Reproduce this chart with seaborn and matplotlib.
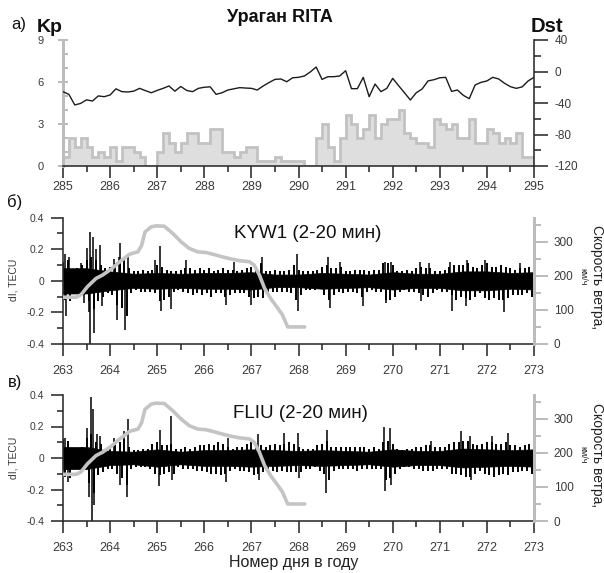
import numpy as np
import matplotlib
matplotlib.use("Agg")
import matplotlib.pyplot as plt
from matplotlib.ticker import MultipleLocator, FixedLocator
import seaborn as sns

# ---------------- geomagnetic indices (days 285-295) ----------------
kp_start_day = 285.0
kp_step = 0.125          # 3-hour intervals
kp_values = [
    0.67, 2, 1.33, 2, 1.33, 0.67, 1, 0.67,          # 285
    1.33, 0.33, 1.33, 1.33, 1, 0.67, 0, 0,          # 286
    1, 2.33, 1.67, 1, 1.67, 2.33, 2.33, 1.67,       # 287
    1.67, 2.67, 2.67, 1, 1, 0.67, 1, 1.33,          # 288
    1.33, 0.33, 0.33, 0.33, 0.67, 0.33, 0.33, 0.33, # 289
    0.33, 0, 0, 2, 3, 1.33, 0.33, 2,                # 290
    3.67, 3, 2, 2.67, 3.67, 2, 3, 3.33,             # 291
    3.33, 4, 2.33, 2, 1.67, 1.67, 1.33, 3.33,       # 292
    3, 2.67, 3, 2, 2, 3.33, 1.67, 1.67,             # 293
    2.67, 2.33, 1.67, 2, 1.67, 2.33, 0.67, 0.67,    # 294
]
dst_values = [
    -25.6, -29, -42.5, -40.5, -36, -37.5, -31, -32,
    -29.8, -22, -25.6, -26, -25, -21.4, -24.3, -27,
    -24, -21.4, -18.4, -25, -19, -24, -25.6, -21.4,
    -20, -19.5, -29, -27, -23.5, -22, -20.5, -21,
    -21.4, -23.5, -18.4, -14, -10, -9.5, -13, -8,
    -7.4, -5.7, -0.6, 5.7, -10, -6.6, -6.6, -5.7,
    1, -21.8, -21.8, -7.4, -32, -15.9, -25.6, -21.4,
    -8.7, -18, -27, -36.2, -27, -22.2, -12, -10.4,
    -8, -7.4, -25.2, -23.5, -30.3, -34.5, -17.1, -13.8,
    -12, -7.4, -9.5, -15, -19.3, -21.4, -19.5, -12,
    -7.4,
]

# ---------------- hurricane RITA wind speed, km/h ----------------
wind_days = [263.00, 263.28, 263.38, 263.52, 263.70, 263.84, 264.02, 264.16,
             264.30, 264.41, 264.59, 264.67, 264.74, 264.87, 264.97, 265.15,
             265.33, 265.51, 265.68, 265.86, 266.04, 266.21, 266.39, 266.57,
             266.75, 266.96, 267.06, 267.17, 267.28, 267.42, 267.56, 267.66,
             267.77, 268.13]
wind_kmh = [137, 137, 144, 168, 192, 202, 219, 236,
            251, 263, 270, 289, 328, 343, 346, 345,
            324, 299, 280, 270, 268, 262, 255, 249,
            244, 241, 231, 202, 163, 131, 105, 85,
            50, 50]

# ---------------- TEC variations dI (2-20 min band) ----------------
# upper / lower extremes of dI in successive 0.1-day windows
tec_start_day = 263.0
tec_step = 0.1
kyw1_upper = [
    0.12, 0.13, 0.07, 0.08, 0.10, 0.13, 0.15, 0.13, 0.10, 0.08,
    0.09, 0.11, 0.13, 0.15, 0.08, 0.06, 0.06, 0.07, 0.06, 0.07,
    0.10, 0.09, 0.07, 0.06, 0.06, 0.07, 0.08, 0.08, 0.07, 0.08,
    0.07, 0.08, 0.06, 0.07, 0.08, 0.07, 0.07, 0.06, 0.07, 0.08,
    0.09, 0.09, 0.11, 0.06, 0.06, 0.07, 0.06, 0.06, 0.07, 0.10,
    0.07, 0.06, 0.06, 0.06, 0.07, 0.09, 0.10, 0.08, 0.08, 0.09,
    0.06, 0.06, 0.07, 0.07, 0.07, 0.06, 0.07, 0.07, 0.11, 0.11,
    0.10, 0.06, 0.06, 0.07, 0.06, 0.08, 0.09, 0.08, 0.08, 0.06,
    0.06, 0.07, 0.09, 0.10, 0.10, 0.10, 0.11, 0.09, 0.08, 0.10,
    0.11, 0.09, 0.09, 0.10, 0.09, 0.08, 0.07, 0.08, 0.08, 0.09,
    0.08,
]
kyw1_lower = [
    -0.12, -0.13, -0.07, -0.07, -0.09, -0.13, -0.18, -0.13, -0.10, -0.08,
    -0.09, -0.15, -0.17, -0.22, -0.08, -0.06, -0.07, -0.07, -0.07, -0.08,
    -0.13, -0.12, -0.10, -0.07, -0.06, -0.07, -0.08, -0.09, -0.08, -0.09,
    -0.08, -0.10, -0.08, -0.08, -0.10, -0.09, -0.08, -0.08, -0.08, -0.10,
    -0.11, -0.10, -0.11, -0.07, -0.07, -0.07, -0.07, -0.07, -0.08, -0.12,
    -0.09, -0.06, -0.06, -0.06, -0.05, -0.09, -0.12, -0.09, -0.07, -0.08,
    -0.07, -0.07, -0.08, -0.10, -0.07, -0.06, -0.07, -0.07, -0.12, -0.12,
    -0.10, -0.07, -0.06, -0.07, -0.07, -0.08, -0.09, -0.10, -0.08, -0.06,
    -0.07, -0.07, -0.09, -0.12, -0.10, -0.11, -0.12, -0.10, -0.08, -0.11,
    -0.12, -0.11, -0.12, -0.12, -0.11, -0.09, -0.09, -0.09, -0.08, -0.10,
    -0.09,
]
# half-width of the dense core of the band, every half day
core_start_day = 263.0
core_step = 0.5
kyw1_core = [0.08, 0.08, 0.06, 0.045, 0.05, 0.045, 0.05, 0.05, 0.055, 0.04,
             0.04, 0.05, 0.045, 0.04, 0.055, 0.045, 0.045, 0.06, 0.06, 0.05,
             0.055]
kyw1_spike_days = [263.04, 263.07, 263.13, 263.39, 263.45, 263.52, 263.55, 263.58,
                   263.57, 263.63, 263.66, 263.71, 263.79, 263.83, 264.08, 264.15,
                   264.18, 264.22, 264.31, 264.37, 264.95, 265.05, 265.08, 265.29,
                   265.62, 266.46, 266.62, 267.00, 267.22, 267.96, 267.99, 268.63,
                   268.66, 268.88, 269.37, 269.83, 269.86, 269.97, 270.57, 270.60,
                   270.78, 271.21, 271.25, 271.56, 271.58, 271.95, 272.36, 272.70]
kyw1_spike_values = [0.17, -0.22, 0.15, 0.11, -0.14, 0.21, -0.20, 0.31,
                     -0.46, 0.28, -0.33, 0.20, 0.23, -0.16, 0.14, -0.25,
                     0.15, 0.24, -0.31, 0.15, 0.13, 0.22, -0.19, -0.18,
                     0.13, -0.15, 0.12, -0.15, 0.15, 0.17, -0.19, 0.15,
                     -0.17, 0.12, -0.16, 0.12, -0.14, 0.12, 0.12, -0.13,
                     0.11, 0.12, -0.19, -0.16, 0.13, 0.13, -0.20, 0.11]

fliu_upper = [
    0.12, 0.11, 0.06, 0.06, 0.07, 0.13, 0.15, 0.10, 0.09, 0.06,
    0.06, 0.10, 0.10, 0.12, 0.07, 0.05, 0.05, 0.06, 0.06, 0.09,
    0.10, 0.08, 0.08, 0.09, 0.06, 0.06, 0.07, 0.06, 0.07, 0.08,
    0.08, 0.09, 0.08, 0.10, 0.09, 0.07, 0.06, 0.07, 0.07, 0.09,
    0.10, 0.09, 0.08, 0.07, 0.08, 0.09, 0.08, 0.09, 0.10, 0.09,
    0.07, 0.06, 0.06, 0.06, 0.08, 0.09, 0.11, 0.07, 0.07, 0.07,
    0.07, 0.07, 0.07, 0.07, 0.07, 0.06, 0.07, 0.06, 0.10, 0.11,
    0.09, 0.06, 0.05, 0.06, 0.06, 0.07, 0.07, 0.08, 0.08, 0.07,
    0.07, 0.07, 0.09, 0.10, 0.10, 0.11, 0.11, 0.09, 0.08, 0.09,
    0.10, 0.10, 0.09, 0.09, 0.10, 0.08, 0.08, 0.07, 0.08, 0.09,
    0.09,
]
fliu_lower = [
    -0.12, -0.13, -0.06, -0.06, -0.07, -0.16, -0.22, -0.11, -0.09, -0.07,
    -0.07, -0.10, -0.13, -0.17, -0.07, -0.06, -0.06, -0.06, -0.07, -0.10,
    -0.11, -0.10, -0.09, -0.10, -0.06, -0.07, -0.07, -0.07, -0.08, -0.08,
    -0.09, -0.10, -0.10, -0.11, -0.10, -0.08, -0.07, -0.08, -0.08, -0.09,
    -0.11, -0.10, -0.09, -0.08, -0.08, -0.09, -0.08, -0.09, -0.09, -0.09,
    -0.09, -0.07, -0.07, -0.06, -0.08, -0.10, -0.14, -0.08, -0.07, -0.07,
    -0.07, -0.07, -0.08, -0.07, -0.07, -0.07, -0.07, -0.07, -0.14, -0.13,
    -0.10, -0.07, -0.06, -0.06, -0.07, -0.07, -0.08, -0.08, -0.08, -0.07,
    -0.07, -0.07, -0.10, -0.10, -0.11, -0.12, -0.12, -0.10, -0.08, -0.10,
    -0.11, -0.12, -0.11, -0.10, -0.11, -0.09, -0.09, -0.08, -0.08, -0.10,
    -0.09,
]
fliu_core = [0.07, 0.07, 0.045, 0.04, 0.055, 0.04, 0.05, 0.05, 0.055, 0.05,
             0.045, 0.05, 0.045, 0.04, 0.055, 0.045, 0.045, 0.06, 0.055, 0.05,
             0.055]
fliu_spike_days = [263.04, 263.10, 263.50, 263.56, 263.60, 263.61, 263.63, 263.66,
                   263.72, 263.79, 264.08, 264.20, 264.30, 264.37, 264.35, 265.05,
                   265.03, 265.29, 265.32, 266.46, 266.50, 267.13, 267.16, 267.70,
                   267.98, 268.02, 268.59, 268.61, 269.82, 269.83, 269.94, 269.96,
                   270.82, 271.46, 271.64, 271.66, 272.10, 272.44]
fliu_spike_values = [0.13, -0.15, 0.19, -0.25, 0.39, -0.53, 0.31, -0.30,
                     0.15, 0.14, 0.13, -0.17, 0.17, 0.25, -0.25, 0.18,
                     -0.18, 0.265, -0.14, -0.15, 0.13, 0.15, -0.14, 0.16,
                     0.16, -0.13, -0.22, 0.18, 0.20, -0.21, 0.19, -0.17,
                     0.11, 0.17, 0.14, -0.14, 0.14, 0.16]

tec_days = np.round(tec_start_day + tec_step * np.arange(len(kyw1_upper)), 2)
core_days = core_start_day + core_step * np.arange(len(kyw1_core))
kp_edges = kp_start_day + kp_step * np.arange(len(kp_values) + 1)
dst_days = kp_start_day + kp_step * np.arange(len(dst_values))

# ---------------- style ----------------
sns.set_style("ticks")
plt.rcParams["font.family"] = ["Liberation Sans", "DejaVu Sans"]
plt.rcParams["axes.unicode_minus"] = False

W, H = 604, 573
fig = plt.figure(figsize=(W / 100, H / 100), dpi=100)


def box(x0, y0, x1, y1):
    return [x0 / W, 1 - y1 / H, (x1 - x0) / W, (y1 - y0) / H]


def put(x, y, s, **kw):
    fig.text(x / W, 1 - y / H, s, ha="center", va="center", **kw)


DARK = "#2b2b2b"
LABEL = "#3a3a3a"
GRAY_AXIS = "#bcbcbc"
PT = 72 / 100  # points per pixel


def style_days_axis(ax, lo, hi, pad):
    ax.set_xlim(lo, hi)
    ax.xaxis.set_major_locator(MultipleLocator(1))
    ax.xaxis.set_minor_locator(MultipleLocator(0.5))
    ax.tick_params(axis="x", which="major", direction="out", length=12 * PT,
                   width=1.6 * PT, color=DARK, labelsize=9, labelcolor=LABEL,
                   pad=pad)
    ax.tick_params(axis="x", which="minor", direction="out", length=6 * PT,
                   width=1.6 * PT, color=DARK)
    ax.spines["bottom"].set_color(DARK)
    ax.spines["bottom"].set_linewidth(1.6 * PT)


# ---------------- panel a: Kp and Dst ----------------
ax_kp = fig.add_axes(box(63, 40, 534, 166))
ax_kp.stairs(kp_values, kp_edges, fill=True, facecolor="#dedede", edgecolor="none")
ax_kp.stairs(kp_values, kp_edges, color="#c2c2c2", linewidth=2.0, baseline=0)
ax_kp.set_ylim(0, 9)
ax_kp.set_yticks([0, 3, 6, 9])
ax_kp.yaxis.set_minor_locator(FixedLocator([1, 2, 4, 5, 7, 8]))
ax_kp.tick_params(axis="y", which="major", direction="inout", length=10 * PT,
                  width=2 * PT, color=GRAY_AXIS, labelsize=8, labelcolor=LABEL,
                  pad=10)
ax_kp.tick_params(axis="y", which="minor", direction="in", length=5 * PT,
                  width=2 * PT, color=GRAY_AXIS)
ax_kp.spines["left"].set_color(GRAY_AXIS)
ax_kp.spines["left"].set_linewidth(3 * PT)
for side in ("top", "right"):
    ax_kp.spines[side].set_visible(False)
style_days_axis(ax_kp, 285, 295, pad=2.5)

ax_dst = ax_kp.twinx()
sns.lineplot(x=dst_days, y=dst_values, ax=ax_dst, color="#1c1c1c",
             linewidth=1.0, sort=False)
ax_dst.set_ylim(-120, 40)
ax_dst.set_yticks([40, 0, -40, -80, -120])
ax_dst.yaxis.set_minor_locator(FixedLocator([20, -20, -60, -100]))
ax_dst.tick_params(axis="y", which="major", direction="out", length=14 * PT,
                   width=1.6 * PT, color=DARK, labelsize=8.5, labelcolor=LABEL,
                   pad=5)
ax_dst.tick_params(axis="y", which="minor", direction="out", length=7 * PT,
                   width=1.6 * PT, color=DARK)
ax_dst.spines["right"].set_color(DARK)
ax_dst.spines["right"].set_linewidth(1.6 * PT)
for side in ("top", "left", "bottom"):
    ax_dst.spines[side].set_visible(False)
ax_dst.set_xlabel("")
ax_dst.set_ylabel("")
ax_kp.set_xlabel("")
ax_kp.set_ylabel("")


# ---------------- panels б and в: TEC and wind speed ----------------
def tec_panel(y_top, y_bottom, upper, lower, core, spike_days, spike_values):
    ax = fig.add_axes(box(63, y_top, 534, y_bottom))
    core = np.asarray(core)
    ax.fill_between(core_days, -core, core, color="black", linewidth=0.5)
    # hairs: the maximum of each 0.1-day window, then its minimum half a
    # window later
    ax.vlines(tec_days, 0, upper, color="black", linewidth=1.4)
    ax.vlines(tec_days + tec_step / 2, 0, lower, color="black", linewidth=1.4)
    ax.vlines(spike_days, 0, spike_values, color="black", linewidth=1.1)
    ax.set_ylim(-0.4, 0.4)
    ax.set_yticks([-0.4, -0.2, 0, 0.2, 0.4])
    ax.set_yticklabels(["-0.4", "-0.2", "0", "0.2", "0.4"])
    ax.yaxis.set_minor_locator(FixedLocator([-0.3, -0.1, 0.1, 0.3]))
    ax.tick_params(axis="y", which="major", direction="out", length=12 * PT,
                   width=1.6 * PT, color=DARK, labelsize=7.5, labelcolor=LABEL,
                   pad=5)
    ax.tick_params(axis="y", which="minor", direction="out", length=6 * PT,
                   width=1.6 * PT, color=DARK)
    ax.spines["left"].set_color(DARK)
    ax.spines["left"].set_linewidth(1.6 * PT)
    for side in ("top", "right"):
        ax.spines[side].set_visible(False)
    style_days_axis(ax, 263, 273, pad=6.5)

    axw = ax.twinx()
    sns.lineplot(x=wind_days, y=wind_kmh, ax=axw, color="#c4c4c4",
                 linewidth=2.6, sort=False)
    axw.set_ylim(0, 370)
    axw.set_yticks([0, 100, 200, 300])
    axw.yaxis.set_minor_locator(FixedLocator([50, 150, 250, 350]))
    axw.tick_params(axis="y", which="major", direction="out", length=14 * PT,
                    width=2 * PT, color=GRAY_AXIS, labelsize=8.5,
                    labelcolor=LABEL, pad=4)
    axw.tick_params(axis="y", which="minor", direction="out", length=7 * PT,
                    width=2 * PT, color=GRAY_AXIS)
    axw.spines["right"].set_color(GRAY_AXIS)
    axw.spines["right"].set_linewidth(3 * PT)
    for side in ("top", "left", "bottom"):
        axw.spines[side].set_visible(False)
    axw.set_xlabel("")
    axw.set_ylabel("")
    return ax, axw


tec_panel(217.7, 344, kyw1_upper, kyw1_lower, kyw1_core,
          kyw1_spike_days, kyw1_spike_values)
tec_panel(395, 521, fliu_upper, fliu_lower, fliu_core,
          fliu_spike_days, fliu_spike_values)

# ---------------- texts ----------------
put(280, 17, "Ураган RITA", fontsize=13, fontweight="bold", color="#111111")
put(19, 25, "а)", fontsize=12, color="#111111")
put(50, 27, "Kp", fontsize=14, fontweight="bold", color="#111111")
put(547, 27, "Dst", fontsize=14.5, fontweight="bold", color="#111111")

put(15, 202, "б)", fontsize=12, color="#111111")
put(15, 383, "в)", fontsize=12, color="#111111")

put(308, 234, "KYW1 (2-20 мин)", fontsize=13.5, color="#111111")
put(300, 413, "FLIU (2-20 мин)", fontsize=13.5, color="#111111")

for yc in (280, 458):
    put(13, yc, "dI, TECU", fontsize=7.5, rotation=90, color=LABEL)
for yc in (277, 455):
    put(597, yc, "Скорость ветра,", fontsize=10, rotation=270, color="#222222")
    put(583, yc, "км/ч", fontsize=6.5, rotation=270, color="#222222")

put(294, 562, "Номер дня в году", fontsize=11.5, color="#222222")

fig.savefig("out.png", dpi=100)
